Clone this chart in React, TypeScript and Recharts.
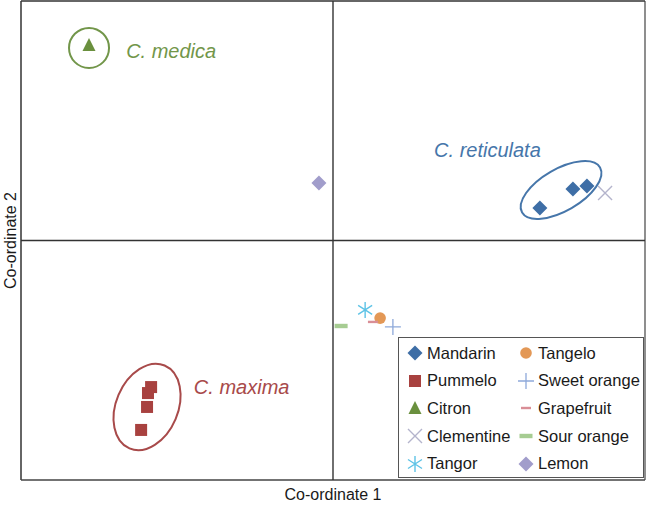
import { Label, ReferenceLine, Scatter, ScatterChart, XAxis, YAxis } from "recharts";

// principal coordinates (axes run -1..1)
const mandarin = [{ x: 0.663, y: 0.136 }, { x: 0.769, y: 0.215 }, { x: 0.814, y: 0.228 }];
const pummelo = [{ x: -0.583, y: -0.612 }, { x: -0.593, y: -0.637 }, { x: -0.596, y: -0.695 }, { x: -0.615, y: -0.791 }];
const citron = [{ x: -0.782, y: 0.816 }];
const clementine = [{ x: 0.872, y: 0.198 }];
const tangor = [{ x: 0.103, y: -0.29 }];
const tangelo = [{ x: 0.151, y: -0.324 }];
const sweetOrange = [{ x: 0.192, y: -0.361 }];
const grapefruit = [{ x: 0.128, y: -0.34 }];
const sourOrange = [{ x: 0.026, y: -0.357 }];
const lemon = [{ x: -0.045, y: 0.24 }];

const groupNames = ["C. medica", "C. reticulata", "C. maxima"];
const groupCentres = [{ x: -0.782, y: 0.804 }, { x: 0.731, y: 0.211 }, { x: -0.596, y: -0.695 }];
const groupLabelAt = [{ x: -0.663, y: 0.791 }, { x: 0.324, y: 0.378 }, { x: -0.446, y: -0.612 }];

const groupStyle = [
    { rx: 20, ry: 20, rot: 0, color: "#72964a" },
    { rx: 45, ry: 21, rot: -30, color: "#4676aa" },
    { rx: 31, ry: 45, rot: 23, color: "#a84a4a" },
];

const font = "'Liberation Sans', Arial, Helvetica, sans-serif";

type Kind = "diamond" | "square" | "triangle" | "x" | "star" | "circle" | "plus" | "dash" | "bar";

const drawMark = (kind: Kind, color: string, cx: number, cy: number) => {
    switch (kind) {
        case "diamond":
            return <path d={`M${cx},${cy - 7.5}L${cx + 7.5},${cy}L${cx},${cy + 7.5}L${cx - 7.5},${cy}Z`} fill={color} />;
        case "square":
            return <rect x={cx - 6} y={cy - 6} width={12} height={12} fill={color} />;
        case "triangle":
            return <path d={`M${cx},${cy - 7}L${cx + 6.5},${cy + 6}L${cx - 6.5},${cy + 6}Z`} fill={color} />;
        case "x":
            return <path d={`M${cx - 7},${cy - 7}L${cx + 7},${cy + 7}M${cx - 7},${cy + 7}L${cx + 7},${cy - 7}`} stroke={color} strokeWidth={1.4} fill="none" />;
        case "star":
            return <path d={`M${cx},${cy - 8}L${cx},${cy + 8}M${cx - 7},${cy - 4.5}L${cx + 7},${cy + 4.5}M${cx - 7},${cy + 4.5}L${cx + 7},${cy - 4.5}`} stroke={color} strokeWidth={1.4} fill="none" />;
        case "circle":
            return <circle cx={cx} cy={cy} r={5.8} fill={color} />;
        case "plus":
            return <path d={`M${cx - 8},${cy}L${cx + 8},${cy}M${cx},${cy - 8}L${cx},${cy + 8}`} stroke={color} strokeWidth={1.3} fill="none" />;
        case "dash":
            return <rect x={cx - 5} y={cy - 1.2} width={10} height={2.4} fill={color} />;
        case "bar":
            return <rect x={cx - 6.5} y={cy - 2.2} width={13} height={4.4} fill={color} />;
    }
};

const series: { name: string; data: { x: number; y: number }[]; kind: Kind; color: string }[] = [
    { name: "Mandarin", data: mandarin, kind: "diamond", color: "#3e6ea6" },
    { name: "Pummelo", data: pummelo, kind: "square", color: "#a8413f" },
    { name: "Citron", data: citron, kind: "triangle", color: "#6a903e" },
    { name: "Clementine", data: clementine, kind: "x", color: "#b4b4cc" },
    { name: "Tangor", data: tangor, kind: "star", color: "#5ec3e6" },
    { name: "Tangelo", data: tangelo, kind: "circle", color: "#e39856" },
    { name: "Sweet orange", data: sweetOrange, kind: "plus", color: "#8ea9da" },
    { name: "Grapefruit", data: grapefruit, kind: "dash", color: "#d98e96" },
    { name: "Sour orange", data: sourOrange, kind: "bar", color: "#a6cc92" },
    { name: "Lemon", data: lemon, kind: "diamond", color: "#a19dcb" },
];

// legend: two columns, as in the figure
const legendOrder = [
    ["Mandarin", "Pummelo", "Citron", "Clementine", "Tangor"],
    ["Tangelo", "Sweet orange", "Grapefruit", "Sour orange", "Lemon"],
];

const ChartLegend = () => (
    <div style={{ position: "absolute", left: 398, top: 337, width: 246, height: 141, border: "1px solid #555", background: "#fff", boxSizing: "border-box" }}>
        {legendOrder.map((col, c) =>
            col.map((name, r) => {
                const s = series.find(d => d.name === name)!;
                return (
                    <div key={name} style={{ position: "absolute", left: c === 0 ? 6 : 117, top: 4 + r * 27.7, height: 22, display: "flex", alignItems: "center", fontFamily: font, fontSize: 16.5, color: "#1a1a1a", whiteSpace: "nowrap" }}>
                        <svg width={20} height={20} style={{ marginRight: 2 }}>{drawMark(s.kind, s.color, 10, 10)}</svg>
                        {name}
                    </div>
                );
            })
        )}
    </div>
);

export default function App() {
    return (
        <div style={{ position: "absolute", left: 0, top: 0, width: 648, height: 505 }}>
            <ScatterChart width={648} height={505} margin={{ top: 1, right: 3, bottom: 0, left: 0 }}>
                <XAxis type="number" dataKey="x" domain={[-1, 1]} tick={false} axisLine={false} tickLine={false} height={25}>
                    <Label value="Co-ordinate 1" position="insideBottom" offset={5} style={{ fontFamily: font, fontSize: 16, fill: "#1a1a1a" }} />
                </XAxis>
                <YAxis type="number" dataKey="y" domain={[-1, 1]} tick={false} axisLine={false} tickLine={false} width={21}>
                    <Label value="Co-ordinate 2" angle={-90} position="insideLeft" offset={10} style={{ fontFamily: font, fontSize: 16, fill: "#1a1a1a", textAnchor: "middle" }} />
                </YAxis>
                <ReferenceLine x={-1} stroke="#333" strokeWidth={1.5} />
                <ReferenceLine x={1} stroke="#444" strokeWidth={1.2} />
                <ReferenceLine y={1} stroke="#333" strokeWidth={1.5} />
                <ReferenceLine y={-1} stroke="#444" strokeWidth={1.5} />
                <ReferenceLine x={0} stroke="#333" strokeWidth={1.4} />
                <ReferenceLine y={0} stroke="#333" strokeWidth={1.4} />
                <Scatter
                    data={groupCentres.map((c, i) => ({ ...c, idx: i }))}
                    isAnimationActive={false}
                    legendType="none"
                    shape={(p: any) => {
                        const g = groupStyle[p.payload.idx];
                        return <ellipse cx={p.cx} cy={p.cy} rx={g.rx} ry={g.ry} transform={`rotate(${g.rot} ${p.cx} ${p.cy})`} fill="none" stroke={g.color} strokeWidth={2} />;
                    }}
                />
                <Scatter
                    data={groupLabelAt.map((c, i) => ({ ...c, idx: i }))}
                    isAnimationActive={false}
                    legendType="none"
                    shape={(p: any) => (
                        <text x={p.cx} y={p.cy} dominantBaseline="central" fontFamily={font} fontSize={20} fontStyle="italic" fill={groupStyle[p.payload.idx].color}>
                            {groupNames[p.payload.idx]}
                        </text>
                    )}
                />
                {series.map(s => (
                    <Scatter key={s.name} name={s.name} data={s.data} isAnimationActive={false} shape={(p: any) => drawMark(s.kind, s.color, p.cx, p.cy)} />
                ))}
            </ScatterChart>
            <ChartLegend />
        </div>
    );
}
